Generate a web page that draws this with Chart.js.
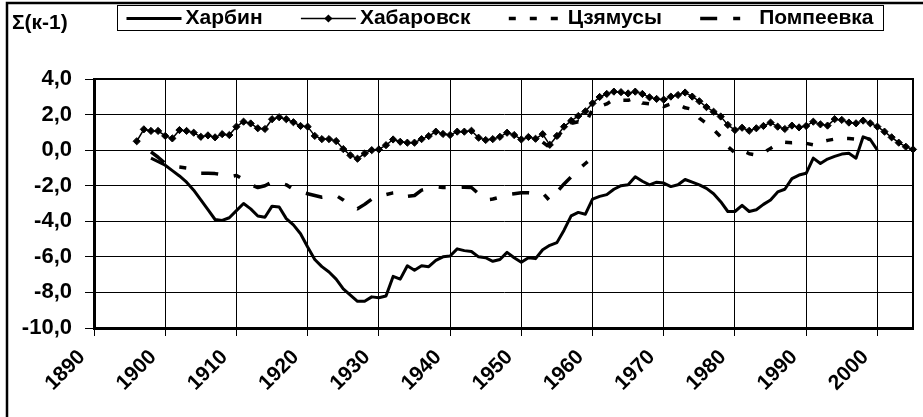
<!DOCTYPE html>
<html>
<head>
<meta charset="utf-8">
<style>
html,body{margin:0;padding:0;background:#fff;}
#wrap{width:923px;height:417px;position:relative;}
</style>
<script src="https://cdn.jsdelivr.net/npm/chart.js@4.4.1/dist/chart.umd.min.js"></script>
</head>
<body>
<div id="wrap"><canvas id="c" width="923" height="417"></canvas></div>
<script>
// ---- data ----
const yAxisTitle = 'Σ(к-1)';
const seriesNames = ['Харбин', 'Хабаровск', 'Цзямусы', 'Помпеевка'];
const xTickYears = [1890, 1900, 1910, 1920, 1930, 1940, 1950, 1960, 1970, 1980, 1990, 2000];
const yTickValues = [-10, -8, -6, -4, -2, 0, 2, 4];
const yTickLabels = ['-10,0', '-8,0', '-6,0', '-4,0', '-2,0', '0,0', '2,0', '4,0'];

const harbinStartYear = 1898;
const harbinValues = [
  -0.45, -0.65,
  -0.85, -1.15, -1.45, -1.8, -2.25, -2.8, -3.35, -3.9, -3.95, -3.8,
  -3.4, -3.0, -3.3, -3.7, -3.77, -3.15, -3.2, -3.85, -4.2, -4.7,
  -5.45, -6.15, -6.55, -6.85, -7.25, -7.8, -8.15, -8.5, -8.5, -8.25,
  -8.3, -8.2, -7.1, -7.25, -6.5, -6.75, -6.5, -6.55, -6.2, -6.0,
  -5.95, -5.55, -5.65, -5.7, -6.0, -6.05, -6.25, -6.15, -5.75, -6.05,
  -6.3, -6.05, -6.1, -5.6, -5.35, -5.2, -4.5, -3.7, -3.5, -3.6,
  -2.75, -2.6, -2.5, -2.2, -2.0, -1.95, -1.5, -1.75, -1.95, -1.8,
  -1.85, -2.05, -1.95, -1.65, -1.8, -1.95, -2.15, -2.45, -2.9, -3.45,
  -3.45, -3.1, -3.45, -3.35, -3.05, -2.8, -2.35, -2.2, -1.6, -1.4,
  -1.3, -0.45, -0.75, -0.5, -0.35, -0.22, -0.18, -0.45, 0.75, 0.6,
  0.0
];

const khabarovskStartYear = 1896;
const khabarovskValues = [
  0.5, 1.17, 1.08, 1.08,
  0.8, 0.66, 1.13, 1.08, 0.98, 0.75, 0.83, 0.72, 0.9, 0.85,
  1.32, 1.6, 1.5, 1.23, 1.19, 1.74, 1.85, 1.74, 1.57, 1.36,
  1.32, 0.8, 0.62, 0.62, 0.51, 0.06, -0.29, -0.48, -0.19, 0.0,
  0.04, 0.28, 0.6, 0.47, 0.42, 0.42, 0.62, 0.79, 1.04, 0.91,
  0.85, 1.04, 1.04, 1.09, 0.7, 0.57, 0.62, 0.75, 0.98, 0.85,
  0.6, 0.74, 0.64, 0.9, 0.3, 0.8, 1.32, 1.65, 1.92, 2.18,
  2.63, 2.99, 3.16, 3.29, 3.26, 3.19, 3.29, 3.16, 2.97, 2.88,
  2.84, 3.01, 3.1, 3.24, 3.01, 2.75, 2.42, 2.16, 1.89, 1.42,
  1.13, 1.26, 1.09, 1.23, 1.36, 1.55, 1.32, 1.19, 1.38, 1.28,
  1.36, 1.6, 1.45, 1.38, 1.74, 1.7, 1.55, 1.51, 1.66, 1.51,
  1.32, 1.04, 0.72, 0.42, 0.19, 0.04
];

const jiamusiStartYear = 1953;
const jiamusiValues = [
  0.45, 0.15, 0.7, 1.2, 1.5, 1.6, 1.5,
  2.3, 2.45, 2.6, 2.85, 2.8, 2.8, 2.95, 2.65, 2.6, 2.55,
  2.45, 2.6, 2.58, 2.38, 2.3, 1.8, 1.5, 1.15, 0.75, 0.2,
  -0.15, 0.0, -0.2, -0.27, -0.15, 0.1, 0.35, 0.45, 0.42, 0.43,
  0.38, 0.3, 0.45, 0.55, 0.62, 0.66, 0.66, 0.62, 0.7, 0.6
];

const pompeevkaStartYear = 1898;
const pompeevkaValues = [
  -0.1, -0.4,
  -0.75, -0.9, -0.95, -1.0, -1.2, -1.3, -1.3, -1.32, -1.38, -1.5,
  -1.42, -1.65, -1.95, -2.1, -2.0, -1.8, -1.8, -1.95, -2.2, -2.35,
  -2.45, -2.55, -2.65, -2.6, -2.55, -2.8, -3.1, -3.3, -3.05, -2.75,
  -2.55, -2.5, -2.4, -2.36, -2.6, -2.55, -2.25, -2.15, -2.05, -2.1,
  -2.1, -2.1, -2.08, -2.1, -2.45, -2.8, -2.75, -2.65, -2.5, -2.45,
  -2.4, -2.4, -2.45, -2.4, -2.85, -2.35, -1.9, -1.5, -1.1, -0.75,
  -0.4, -0.1
];

function toPoints(startYear, values) {
  return values.map((v, i) => ({ x: startYear + i, y: v }));
}

const FONT = '"Liberation Sans", Arial, sans-serif';

const datasets = [
  { label: seriesNames[0], data: toPoints(harbinStartYear, harbinValues),
    borderColor: '#000', borderWidth: 3, pointRadius: 0, borderDash: [], clip: false },
  { label: seriesNames[1], data: toPoints(khabarovskStartYear, khabarovskValues),
    borderColor: '#000', borderWidth: 1.5, pointRadius: 3.6, pointStyle: 'rectRot',
    pointBackgroundColor: '#000', pointBorderColor: '#000', pointBorderWidth: 1, borderDash: [], clip: false },
  { label: seriesNames[2], data: toPoints(jiamusiStartYear, jiamusiValues),
    borderColor: '#000', borderWidth: 3.5, pointRadius: 0, borderDash: [7, 14], clip: false },
  { label: seriesNames[3], data: toPoints(pompeevkaStartYear, pompeevkaValues),
    borderColor: '#000', borderWidth: 3.5, pointRadius: 0, borderDash: [17, 16, 7, 16], clip: false }
];

const decor = {
  id: 'decor',
  afterDraw(chart) {
    const ctx = chart.ctx;
    const a = chart.chartArea;
    ctx.save();
    ctx.strokeStyle = '#000';
    // top & right edges of the plot
    ctx.lineWidth = 2;
    ctx.setLineDash([]);
    ctx.beginPath();
    ctx.moveTo(a.left, a.top);
    ctx.lineTo(a.right, a.top);
    ctx.lineTo(a.right, a.bottom);
    ctx.stroke();
    // outer chart frame (left & top visible)
    ctx.lineWidth = 2.5;
    ctx.beginPath();
    ctx.moveTo(7, 417);
    ctx.lineTo(7, 3);
    ctx.lineTo(923, 3);
    ctx.stroke();
    // axis title
    ctx.fillStyle = '#000';
    ctx.font = 'bold 21px ' + FONT;
    ctx.textBaseline = 'middle';
    ctx.textAlign = 'left';
    ctx.fillText(yAxisTitle, 12, 23);
    // legend
    const box = { left: 117.5, top: 5.5, right: 883.5, bottom: 30.5 };
    ctx.lineWidth = 1;
    ctx.strokeRect(box.left, box.top, box.right - box.left, box.bottom - box.top);
    ctx.font = 'bold 21px ' + FONT;
    const sampleW = 55, textGap = 4, marginL = 9, marginR = 10;
    const widths = seriesNames.map(n => ctx.measureText(n).width);
    const used = widths.reduce((s, w) => s + w, 0) + seriesNames.length * (sampleW + textGap);
    const spacing = ((box.right - box.left) - marginL - marginR - used) / (seriesNames.length - 1);
    const yMid = (box.top + box.bottom) / 2 + 0.5;
    let x = box.left + marginL;
    chart.data.datasets.forEach((ds, i) => {
      ctx.save();
      ctx.strokeStyle = ds.borderColor;
      ctx.lineWidth = ds.borderWidth;
      ctx.setLineDash(ds.borderDash || []);
      ctx.lineCap = 'butt';
      ctx.beginPath();
      ctx.moveTo(x, yMid);
      ctx.lineTo(x + sampleW, yMid);
      ctx.stroke();
      if (ds.pointRadius > 0) {
        const r = ds.pointRadius + 0.5;
        const cx = x + sampleW / 2;
        ctx.setLineDash([]);
        ctx.fillStyle = ds.pointBackgroundColor;
        ctx.beginPath();
        ctx.moveTo(cx, yMid - r);
        ctx.lineTo(cx + r, yMid);
        ctx.lineTo(cx, yMid + r);
        ctx.lineTo(cx - r, yMid);
        ctx.closePath();
        ctx.fill();
      }
      ctx.restore();
      ctx.fillStyle = '#000';
      ctx.textAlign = 'left';
      ctx.textBaseline = 'middle';
      ctx.fillText(ds.label, x + sampleW + textGap, yMid);
      x += sampleW + textGap + widths[i] + spacing;
    });
    ctx.restore();
  }
};

new Chart(document.getElementById('c'), {
  type: 'line',
  data: { datasets },
  options: {
    responsive: false,
    animation: false,
    devicePixelRatio: 1,
    layout: { padding: { left: 0, right: 10, top: 79, bottom: 0 } },
    elements: { line: { tension: 0, borderJoinStyle: 'round' } },
    plugins: { legend: { display: false }, title: { display: false }, tooltip: { enabled: false } },
    scales: {
      x: {
        type: 'linear',
        min: 1890,
        max: 2005,
        afterBuildTicks: s => { s.ticks = xTickYears.map(v => ({ value: v })); },
        afterFit: s => { s.height = 89; },
        grid: { color: '#000', lineWidth: 1, drawTicks: true, tickLength: 8 },
        border: { display: true, color: '#000', width: 3 },
        ticks: {
          autoSkip: false, maxRotation: 45, minRotation: 45, padding: 9, labelOffset: -12,
          color: '#000', font: { family: FONT, size: 21, weight: 'bold' },
          callback: v => String(v)
        }
      },
      y: {
        min: -10,
        max: 4,
        afterBuildTicks: s => { s.ticks = yTickValues.map(v => ({ value: v })); },
        afterFit: s => { s.width = 94; },
        grid: { color: '#000', lineWidth: 1, drawTicks: true, tickLength: 9 },
        border: { display: true, color: '#000', width: 3 },
        ticks: {
          padding: 13, color: '#000', font: { family: FONT, size: 22, weight: 'bold' },
          callback: v => yTickLabels[yTickValues.indexOf(v)]
        }
      }
    }
  },
  plugins: [decor]
});
</script>
</body>
</html>
